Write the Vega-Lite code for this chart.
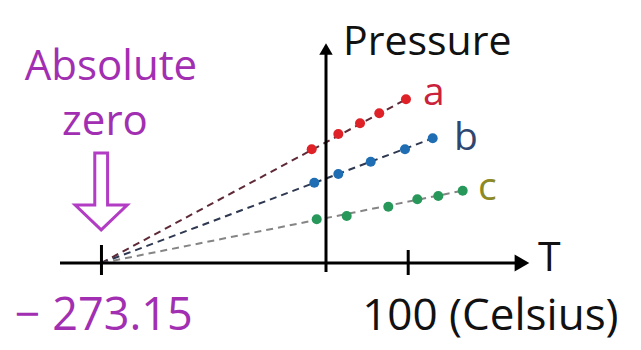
{
  "$schema": "https://vega.github.io/schema/vega-lite/v6.json",
  "width": 641,
  "height": 350,
  "autosize": {"type": "fit", "contains": "padding"},
  "padding": 0,
  "background": "white",
  "view": {"stroke": null},
  "config": {"text": {"font": "Open Sans"}},
  "datasets": {
    "axes": [
      {"part": "x-axis", "T": -323.6, "P": 0, "T2": 236, "P2": 0},
      {"part": "y-axis", "T": 0, "P": -9, "T2": 0, "P2": 210},
      {"part": "tick -273.15", "T": -273.15, "P": -12, "T2": -273.15, "P2": 18},
      {"part": "tick 100", "T": 100, "P": -12, "T2": 100, "P2": 13}
    ],
    "heads": [
      {"dir": "right", "T": 238.4, "P": 0},
      {"dir": "up", "T": 0, "P": 214}
    ],
    "lines": [
      {"series": "a", "T": -273.15, "P": 0},
      {"series": "a", "T": 97.3, "P": 163.7},
      {"series": "b", "T": -273.15, "P": 0},
      {"series": "b", "T": 129.8, "P": 124.7},
      {"series": "c", "T": -273.15, "P": 0},
      {"series": "c", "T": 166.3, "P": 72.3}
    ],
    "pts": [
      {"series": "a", "T": -17.4, "P": 113.7},
      {"series": "a", "T": 15.0, "P": 129.0},
      {"series": "a", "T": 41.4, "P": 139.7},
      {"series": "a", "T": 64.8, "P": 149.7},
      {"series": "a", "T": 97.3, "P": 163.7},
      {"series": "b", "T": -14.2, "P": 80.3},
      {"series": "b", "T": 15.0, "P": 89.0},
      {"series": "b", "T": 54.4, "P": 101.3},
      {"series": "b", "T": 96.1, "P": 113.7},
      {"series": "b", "T": 129.8, "P": 124.7},
      {"series": "c", "T": -11.3, "P": 43.7},
      {"series": "c", "T": 25.2, "P": 47.0},
      {"series": "c", "T": 75.8, "P": 56.3},
      {"series": "c", "T": 111.1, "P": 63.7},
      {"series": "c", "T": 136.6, "P": 67.0},
      {"series": "c", "T": 166.3, "P": 72.3}
    ],
    "labels": [
      {"series": "a", "T": 118, "P": 158},
      {"series": "b", "T": 155.7, "P": 113},
      {"series": "c", "T": 184.9, "P": 63}
    ],
    "blackText": [
      {"label": "Pressure", "T": 20.7, "P": 208},
      {"label": "T", "T": 257.9, "P": -8}
    ],
    "bottomBlack": [
      {"label": "100 (Celsius)", "T": 44, "P": -67}
    ],
    "purpleLeft": [
      {"label": "− 273.15", "T": -378.5, "P": -67}
    ],
    "purpleCenter": [
      {"label": "Absolute", "T": -261.6, "P": 183},
      {"label": "zero", "T": -268.9, "P": 128}
    ],
    "zeroArrow": [
      {"what": "points to absolute zero", "T": -273.5, "P": 71.5}
    ]
  },
  "encoding": {
    "x": {"field": "T", "type": "quantitative", "scale": {"domain": [-396.59, 383.21], "nice": false, "zero": false}, "axis": null},
    "y": {"field": "P", "type": "quantitative", "scale": {"domain": [-87, 263], "nice": false, "zero": false}, "axis": null}
  },
  "layer": [
    {
      "data": {"name": "lines"},
      "mark": {"type": "line", "strokeWidth": 2, "strokeDash": [7, 5]},
      "encoding": {
        "detail": {"field": "series"},
        "stroke": {"field": "series", "type": "nominal", "scale": {"domain": ["a", "b", "c"], "range": ["#5e2a38", "#2e3850", "#858585"]}, "legend": null}
      }
    },
    {
      "data": {"name": "axes"},
      "mark": {"type": "rule", "color": "black", "strokeWidth": 3},
      "encoding": {
        "x2": {"field": "T2"},
        "y2": {"field": "P2"}
      }
    },
    {
      "data": {"name": "heads"},
      "transform": [{"filter": "datum.dir === 'right'"}],
      "mark": {"type": "point", "shape": "triangle-right", "size": 289, "filled": true, "color": "black", "opacity": 1},
      "encoding": {}
    },
    {
      "data": {"name": "heads"},
      "transform": [{"filter": "datum.dir === 'up'"}],
      "mark": {"type": "point", "shape": "triangle-up", "size": 180, "filled": true, "color": "black", "opacity": 1},
      "encoding": {}
    },
    {
      "data": {"name": "pts"},
      "mark": {"type": "circle", "size": 100, "opacity": 1},
      "encoding": {
        "fill": {"field": "series", "type": "nominal", "scale": {"domain": ["a", "b", "c"], "range": ["#de2228", "#1f6db3", "#27985a"]}, "legend": null}
      }
    },
    {
      "data": {"name": "labels"},
      "mark": {"type": "text", "align": "left", "baseline": "alphabetic", "fontSize": 39},
      "encoding": {
        "text": {"field": "series"},
        "color": {"field": "series", "type": "nominal", "scale": {"domain": ["a", "b", "c"], "range": ["#c9223a", "#2f4770", "#8c8a26"]}, "legend": null}
      }
    },
    {
      "data": {"name": "blackText"},
      "mark": {"type": "text", "align": "left", "baseline": "alphabetic", "fontSize": 41, "color": "#111111"},
      "encoding": {"text": {"field": "label"}}
    },
    {
      "data": {"name": "bottomBlack"},
      "mark": {"type": "text", "align": "left", "baseline": "alphabetic", "fontSize": 44, "color": "#111111"},
      "encoding": {"text": {"field": "label"}}
    },
    {
      "data": {"name": "purpleLeft"},
      "mark": {"type": "text", "align": "left", "baseline": "alphabetic", "fontSize": 45, "color": "#a22fb2"},
      "encoding": {"text": {"field": "label"}}
    },
    {
      "data": {"name": "purpleCenter"},
      "mark": {"type": "text", "align": "center", "baseline": "alphabetic", "fontSize": 42, "color": "#a22fb2"},
      "encoding": {"text": {"field": "label"}}
    },
    {
      "data": {"name": "zeroArrow"},
      "mark": {
        "type": "point",
        "shape": "M-0.16,-0.96L0.16,-0.96L0.16,0.34L0.65,0.34L0,0.96L-0.65,0.34L-0.16,0.34Z",
        "size": 6400,
        "filled": false,
        "stroke": "#b23cc4",
        "strokeWidth": 3,
        "opacity": 1
      },
      "encoding": {}
    }
  ],
  "resolve": {"scale": {"color": "independent", "fill": "independent", "stroke": "independent"}}
}
